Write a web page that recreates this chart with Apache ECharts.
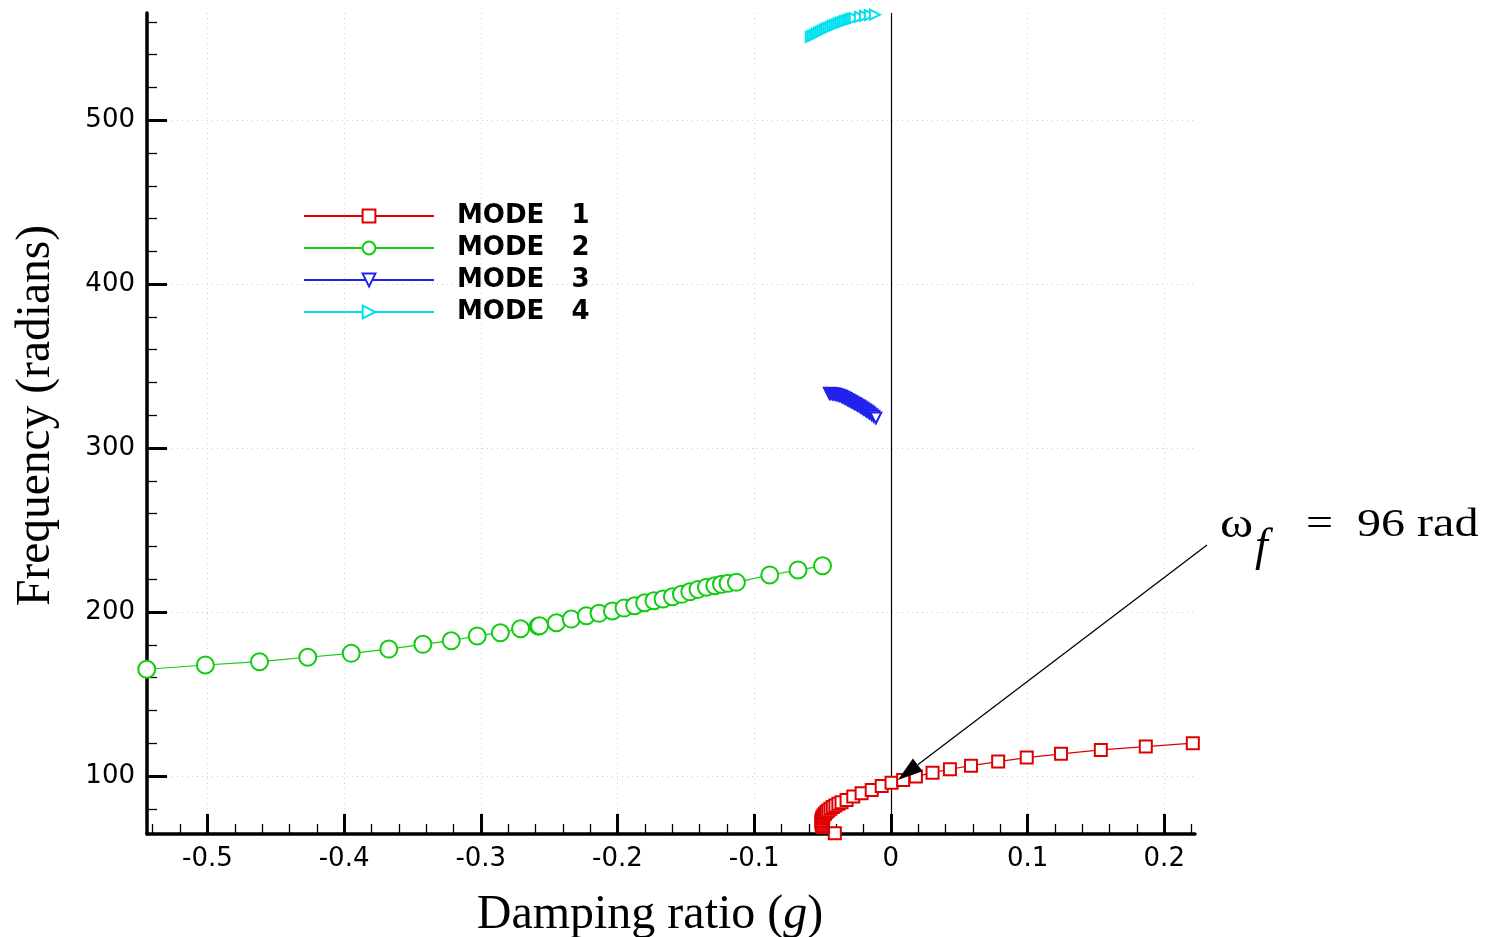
<!DOCTYPE html>
<html><head><meta charset="utf-8">
<script src="https://cdn.jsdelivr.net/npm/echarts@6/dist/echarts.min.js"></script>
<style>html,body{margin:0;padding:0;background:#fff}#c{width:1505px;height:937px}</style>
</head><body><div id="c"></div>
<script>
// ---- data (damping ratio g, frequency rad) ----
const seriesNames = ['MODE   1', 'MODE   2', 'MODE   3', 'MODE   4'];
const mode1 = [
  [-0.0410, 65.0], [-0.0496, 68.8], [-0.0504, 70.0], [-0.0507, 71.0], [-0.0508, 72.0],
  [-0.0507, 73.0], [-0.0504, 74.0], [-0.0499, 75.0], [-0.0492, 76.0], [-0.0482, 77.0],
  [-0.0471, 78.0], [-0.0458, 79.0], [-0.0442, 80.0], [-0.0425, 81.0], [-0.0406, 82.0],
  [-0.0384, 83.0], [-0.0361, 84.0], [-0.0324, 85.4], [-0.0275, 87.4], [-0.0214, 89.5],
  [-0.0140, 91.5], [-0.0067, 93.9], [0.0005, 95.9], [0.0090, 97.6], [0.0183, 99.6],
  [0.0305, 102.0], [0.0432, 104.1], [0.0586, 106.3], [0.0785, 108.8], [0.0994, 111.2],
  [0.1245, 113.5], [0.1536, 115.9], [0.1865, 117.9], [0.2209, 120.0]
];
const mode2 = [
  [-0.5444, 165.1], [-0.5015, 167.7], [-0.4619, 169.7], [-0.4266, 172.4], [-0.3948, 174.8],
  [-0.3673, 177.4], [-0.3424, 180.3], [-0.3216, 182.5], [-0.3026, 185.4], [-0.2857, 187.4],
  [-0.2709, 189.8], [-0.2580, 191.4], [-0.2570, 191.6], [-0.2447, 193.5], [-0.2338, 195.7],
  [-0.2228, 197.7], [-0.2135, 199.2], [-0.2037, 200.6], [-0.1952, 202.4], [-0.1874, 203.8],
  [-0.1801, 205.7], [-0.1733, 206.9], [-0.1667, 207.9], [-0.1598, 209.3], [-0.1532, 210.8],
  [-0.1471, 212.4], [-0.1411, 213.8], [-0.1349, 215.1], [-0.1288, 216.0], [-0.1239, 216.9],
  [-0.1191, 217.5], [-0.1130, 218.1], [-0.0886, 222.6], [-0.0679, 225.6], [-0.0500, 228.2]
];
const mode3 = [
  [-0.0450, 333.4], [-0.0439, 333.3], [-0.0428, 333.2], [-0.0417, 333.0], [-0.0406, 332.8],
  [-0.0395, 332.6], [-0.0384, 332.3], [-0.0373, 332.0], [-0.0362, 331.6], [-0.0351, 331.2],
  [-0.0340, 330.7], [-0.0329, 330.2], [-0.0318, 329.7], [-0.0307, 329.2], [-0.0296, 328.7],
  [-0.0286, 328.2], [-0.0275, 327.7], [-0.0264, 327.2], [-0.0253, 326.7], [-0.0242, 326.2],
  [-0.0231, 325.6], [-0.0220, 325.0], [-0.0209, 324.4], [-0.0198, 323.8], [-0.0187, 323.2],
  [-0.0176, 322.6], [-0.0165, 322.0], [-0.0154, 321.3], [-0.0140, 320.4], [-0.0125, 319.4],
  [-0.0110, 318.4]
];
const mode4 = [
  [-0.0586, 550.9], [-0.0571, 551.5], [-0.0556, 552.1], [-0.0541, 552.8], [-0.0527, 553.4],
  [-0.0512, 554.0], [-0.0498, 554.6], [-0.0483, 555.2], [-0.0469, 555.8], [-0.0454, 556.4],
  [-0.0439, 557.0], [-0.0425, 557.5], [-0.0410, 558.0], [-0.0395, 558.5], [-0.0381, 559.0],
  [-0.0366, 559.5], [-0.0351, 559.9], [-0.0337, 560.4], [-0.0322, 560.8], [-0.0307, 561.2],
  [-0.0293, 561.6], [-0.0278, 562.0], [-0.0264, 562.3], [-0.0227, 563.1], [-0.0190, 563.7],
  [-0.0154, 564.1], [-0.0117, 564.4]
];
const xMajorTicks = [-0.5, -0.4, -0.3, -0.2, -0.1, 0, 0.1, 0.2];
const xMinorTicks = [-0.54, -0.52, -0.48, -0.46, -0.44, -0.42, -0.38, -0.36, -0.34, -0.32,
  -0.28, -0.26, -0.24, -0.22, -0.18, -0.16, -0.14, -0.12, -0.08, -0.06, -0.04, -0.02,
  0.02, 0.04, 0.06, 0.08, 0.12, 0.14, 0.16, 0.18, 0.22];
const yMajorTicks = [100, 200, 300, 400, 500];
const yMinorTicks = [80, 120, 140, 160, 180, 220, 240, 260, 280, 320, 340, 360, 380,
  420, 440, 460, 480, 520, 540, 560];
const xRange = [-0.5442, 0.2225];
const yRange = [64.6, 565.4];
const refLineX = 0;
const annotationText = { omega: 'ω', sub: 'f', rest: '=  96 rad' };
const arrowFrom = [0.2313, 240.9];
const arrowTo = [0.0051, 97.6];

// ---- chart ----
const chart = echarts.init(document.getElementById('c'));
const serif = '"Liberation Serif", "Times New Roman", serif';
const sans = '"DejaVu Sans", sans-serif';

function baseX(extra) {
  return Object.assign({
    type: 'value', min: xRange[0], max: xRange[1], position: 'bottom', gridIndex: 0
  }, extra);
}
function baseY(extra) {
  return Object.assign({
    type: 'value', min: yRange[0], max: yRange[1], position: 'left', gridIndex: 0
  }, extra);
}

const option = {
  animation: false,
  backgroundColor: '#ffffff',
  grid: { left: 147, right: 310, top: 13, bottom: 103, containLabel: false,
    outerBoundsMode: 'none' },
  legend: {
    orient: 'vertical', left: 298, top: 198,
    itemWidth: 130, itemHeight: 16, itemGap: 6,
    data: seriesNames,
    textStyle: { fontFamily: sans, fontWeight: 'bold', fontSize: 26, color: '#000',
      lineHeight: 26, padding: [0, 0, 0, 18] }
  },
  xAxis: [
    baseX({
      name: 'Damping ratio ({i|g})', nameLocation: 'middle', nameGap: 57,
      nameTextStyle: { fontFamily: serif, fontSize: 48, color: '#000', padding: [0, 42, 0, 0],
        rich: { i: { fontFamily: serif, fontSize: 48, fontStyle: 'italic', color: '#000' } } },
      axisLine: { show: true, onZero: false, lineStyle: { color: '#000', width: 3.5 } },
      axisTick: { show: true, inside: true, length: 20, customValues: xMajorTicks,
        lineStyle: { color: '#000', width: 3 } },
      axisLabel: { show: true, customValues: xMajorTicks, margin: 12, fontFamily: sans,
        fontSize: 26, color: '#000', formatter: v => String(Math.round(v * 10) / 10) },
      splitLine: { show: true, lineStyle: { color: '#cfcfcf', type: [1, 4], width: 1 } }
    }),
    baseX({
      axisLine: { show: false, onZero: false },
      axisTick: { show: true, inside: true, length: 10, customValues: xMinorTicks,
        lineStyle: { color: '#000', width: 1.3 } },
      axisLabel: { show: false },
      splitLine: { show: false }
    })
  ],
  yAxis: [
    baseY({
      name: 'Frequency (radians)', nameLocation: 'middle', nameGap: 86,
      nameTextStyle: { fontFamily: serif, fontSize: 47.5, color: '#000', padding: [0, 0, 0, 16] },
      axisLine: { show: true, onZero: false, lineStyle: { color: '#000', width: 3.5 } },
      axisTick: { show: true, inside: true, length: 20, customValues: yMajorTicks,
        lineStyle: { color: '#000', width: 3 } },
      axisLabel: { show: true, customValues: yMajorTicks, margin: 12, fontFamily: sans,
        fontSize: 26, color: '#000' },
      splitLine: { show: true, lineStyle: { color: '#cfcfcf', type: [1, 4], width: 1 } }
    }),
    baseY({
      axisLine: { show: false, onZero: false },
      axisTick: { show: true, inside: true, length: 10, customValues: yMinorTicks,
        lineStyle: { color: '#000', width: 1.3 } },
      axisLabel: { show: false },
      splitLine: { show: false }
    })
  ],
  series: [
    {
      name: seriesNames[0], type: 'line', data: mode1, xAxisIndex: 0, yAxisIndex: 0,
      symbol: 'emptyRect', symbolSize: 12, clip: false,
      lineStyle: { color: '#dd0000', width: 1.2 },
      itemStyle: { color: '#dd0000', borderColor: '#dd0000', borderWidth: 1.4 },
      markLine: {
        silent: true, symbol: 'none', animation: false,
        label: { show: false },
        lineStyle: { color: '#000', width: 1.2, type: 'solid' },
        emphasis: { disabled: true },
        data: [{ xAxis: refLineX }]
      },
      z: 5
    },
    {
      name: seriesNames[1], type: 'line', data: mode2, xAxisIndex: 0, yAxisIndex: 0,
      symbol: 'emptyCircle', symbolSize: 17, clip: false,
      lineStyle: { color: '#11cc11', width: 1.2 },
      itemStyle: { color: '#11cc11', borderColor: '#11cc11', borderWidth: 1.4 }
    },
    {
      name: seriesNames[2], type: 'line', data: mode3, xAxisIndex: 0, yAxisIndex: 0,
      symbol: 'emptyTriangle', symbolSize: 11, symbolRotate: 180, clip: false,
      lineStyle: { color: '#2222ee', width: 1.2 },
      itemStyle: { color: '#2222ee', borderColor: '#2222ee', borderWidth: 1.3 }
    },
    {
      name: seriesNames[3], type: 'line', data: mode4, xAxisIndex: 0, yAxisIndex: 0,
      symbol: 'emptyTriangle', symbolSize: 10, symbolRotate: -90, clip: false,
      lineStyle: { color: '#00e0ee', width: 1.2 },
      itemStyle: { color: '#00e0ee', borderColor: '#00e0ee', borderWidth: 1.3 }
    }
  ]
};
chart.setOption(option);

// ---- annotation: arrow + label, positioned from data coordinates ----
const p0 = chart.convertToPixel({ gridIndex: 0 }, arrowFrom);
const p1 = chart.convertToPixel({ gridIndex: 0 }, arrowTo);
const dx = p0[0] - p1[0], dy = p0[1] - p1[1];
const len = Math.sqrt(dx * dx + dy * dy);
const ux = dx / len, uy = dy / len;
const headLen = 25, headHalf = 8;
const bx = p1[0] + ux * headLen, by = p1[1] + uy * headLen;
chart.setOption({
  graphic: [
    { type: 'line', shape: { x1: p0[0], y1: p0[1], x2: bx, y2: by },
      style: { stroke: '#000', lineWidth: 1.3 }, z: 100 },
    { type: 'polygon', shape: { points: [[p1[0], p1[1]],
        [bx - uy * headHalf, by + ux * headHalf], [bx + uy * headHalf, by - ux * headHalf]] },
      style: { fill: '#000' }, z: 100 },
    { type: 'text', x: p0[0] + 13, y: p0[1] - 19, scaleX: 1.2,
      style: { text: annotationText.omega, fontFamily: serif, fontSize: 42, fill: '#000',
        align: 'left', verticalAlign: 'middle' }, z: 100 },
    { type: 'text', x: p0[0] + 48, y: p0[1] + 3,
      style: { text: annotationText.sub, fontFamily: serif, fontSize: 46, fontStyle: 'italic',
        fill: '#000', align: 'left', verticalAlign: 'middle' }, z: 100 },
    { type: 'text', x: p0[0] + 99, y: p0[1] - 19, scaleX: 1.2,
      style: { text: annotationText.rest, fontFamily: serif, fontSize: 40, fill: '#000',
        align: 'left', verticalAlign: 'middle' }, z: 100 }
  ]
});
</script>
</body></html>
